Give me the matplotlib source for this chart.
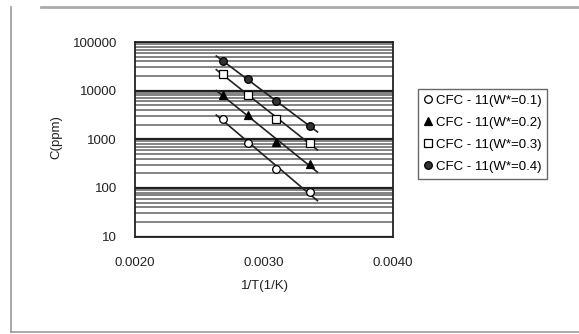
import numpy as np
import matplotlib.pyplot as plt
from matplotlib.lines import Line2D

# 1/T for 100, 75, 50, 25 C
inv_T = [0.00268, 0.002874, 0.003096, 0.003354]

# C (ppm), one list per W*
c_w01 = [2670, 840, 248, 82]
c_w02 = [8070, 3130, 880, 306]
c_w03 = [22000, 8070, 2670, 840]
c_w04 = [40600, 17000, 6170, 1850]

labels = ['CFC - 11(W*=0.1)', 'CFC - 11(W*=0.2)',
          'CFC - 11(W*=0.3)', 'CFC - 11(W*=0.4)']
y_ticks = [10, 100, 1000, 10000, 100000]
x_ticks = [0.0020, 0.0030, 0.0040]

plt.rcParams['font.family'] = ['Liberation Sans', 'DejaVu Sans']

fig = plt.figure(figsize=(5.79, 3.34), dpi=100)
ax = fig.add_axes([0.2332, 0.2919, 0.4456, 0.5823])

# grid lines (minor lines crowd near the top of each decade)
ax.set_yscale('log')
ax.set_ylim(10, 100000)
ax.set_xlim(0.002, 0.004)
ax.yaxis.grid(True, which='minor', color='#6e6e6e', lw=1.2)
ax.yaxis.grid(True, which='major', color='#202020', lw=1.6)
ax.set_axisbelow(True)

series = [c_w01, c_w02, c_w03, c_w04]
markers = ['o', '^', 's', 'o']
fills = ['white', 'black', 'white', '#333333']

# trend lines (exponential fit, extended a little both ways)
x_fit = np.linspace(inv_T[0] - 0.00005, inv_T[-1] + 0.00006, 20)
for c in series:
    p = np.polyfit(inv_T, np.log10(c), 1)
    ax.plot(x_fit, 10 ** np.polyval(p, x_fit), color='#222222', lw=1.2, zorder=3)

handles = []
for c, m, f, lab in zip(series, markers, fills, labels):
    h, = ax.plot(inv_T, c, linestyle='none', marker=m, ms=5.5,
                 mfc=f, mec='black', mew=0.9, zorder=4, label=lab)
    handles.append(h)

ax.set_yticks(y_ticks)
ax.set_yticklabels([str(v) for v in y_ticks])
ax.set_xticks(x_ticks)
ax.set_xticklabels(['%.4f' % v for v in x_ticks])
ax.tick_params(axis='both', which='both', length=0, labelsize=9.5, colors='#222222')
ax.tick_params(axis='y', pad=13)
ax.tick_params(axis='x', pad=15)

for s in ax.spines.values():
    s.set_linewidth(1.3)
    s.set_color('#222222')

fig.text(0.098, 0.59, 'C(ppm)', rotation=90, ha='center', va='center',
         fontsize=9.5, color='#222222')
fig.text(0.458, 0.143, '1/T(1/K)', ha='center', va='center',
         fontsize=9.5, color='#222222')

leg = fig.legend(handles=handles, loc='upper left',
                 bbox_to_anchor=(0.722, 0.735), fontsize=9.5,
                 frameon=True, fancybox=False, edgecolor='#444444',
                 handlelength=0.6, handletextpad=0.3, borderpad=0.45,
                 labelspacing=0.75, borderaxespad=0)
leg.get_frame().set_linewidth(1.0)

# scanned page frame
fig.add_artist(Line2D([0.019, 0.019], [0.006, 0.98], color='#999999', lw=1.2))
fig.add_artist(Line2D([0.019, 1.0], [0.006, 0.006], color='#999999', lw=1.2))
fig.add_artist(Line2D([0.07, 1.0], [0.978, 0.978], color='#aaaaaa', lw=2))

fig.savefig('out.png', dpi=100)
